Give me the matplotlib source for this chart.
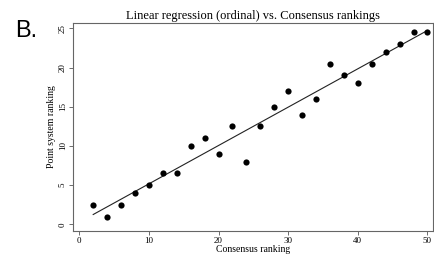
import numpy as np
import matplotlib.pyplot as plt

consensus = [2, 4, 6, 8, 10, 12, 14, 16, 18, 20, 22, 24, 26,
             28, 30, 32, 34, 36, 38, 40, 42, 44, 46, 48, 50]
points = [2.5, 1, 2.5, 4, 5, 6.5, 6.5, 10, 11, 9, 12.5, 8, 12.5,
          15, 17, 14, 16, 20.5, 19, 18, 20.5, 22, 23, 24.5, 24.5]
xticks = [0, 10, 20, 30, 40, 50]
yticks = [0, 5, 10, 15, 20, 25]

x = np.array(consensus)
y = np.array(points)
slope, icpt = np.polyfit(x, y, 1)

plt.rcParams['font.family'] = ['Liberation Serif', 'DejaVu Serif']

fig = plt.figure(figsize=(4.34, 2.57), dpi=100)
ax = fig.add_axes([73 / 434, 1 - 231 / 257, 360 / 434, 208 / 257])

ax.scatter(x, y, s=20, color='black', zorder=3, linewidths=0)
xs = np.array([x.min(), x.max()])
ax.plot(xs, icpt + slope * xs, color='#222222', lw=0.8)

ax.set_xlim(-0.9, 50.8)
ax.set_ylim(-0.85, 25.7)
ax.set_xticks(xticks)
ax.set_yticks(yticks)
ax.tick_params(labelsize=6.5, length=3, width=0.6, color='#555555', pad=1.5)
for lab in ax.get_yticklabels():
    lab.set_rotation(90)
    lab.set_va('center')
for s in ax.spines.values():
    s.set_color('#666666')
    s.set_linewidth(0.8)

ax.set_xlabel('Consensus ranking', fontsize=7, labelpad=0)
ax.set_ylabel('Point system ranking', fontsize=7, labelpad=2)
ax.set_title('Linear regression (ordinal) vs. Consensus rankings', fontsize=9, pad=3)

fig.text(15 / 434, 1 - 37 / 257, 'B.', fontsize=17, family='Liberation Sans')

fig.savefig('out.png', dpi=100)
